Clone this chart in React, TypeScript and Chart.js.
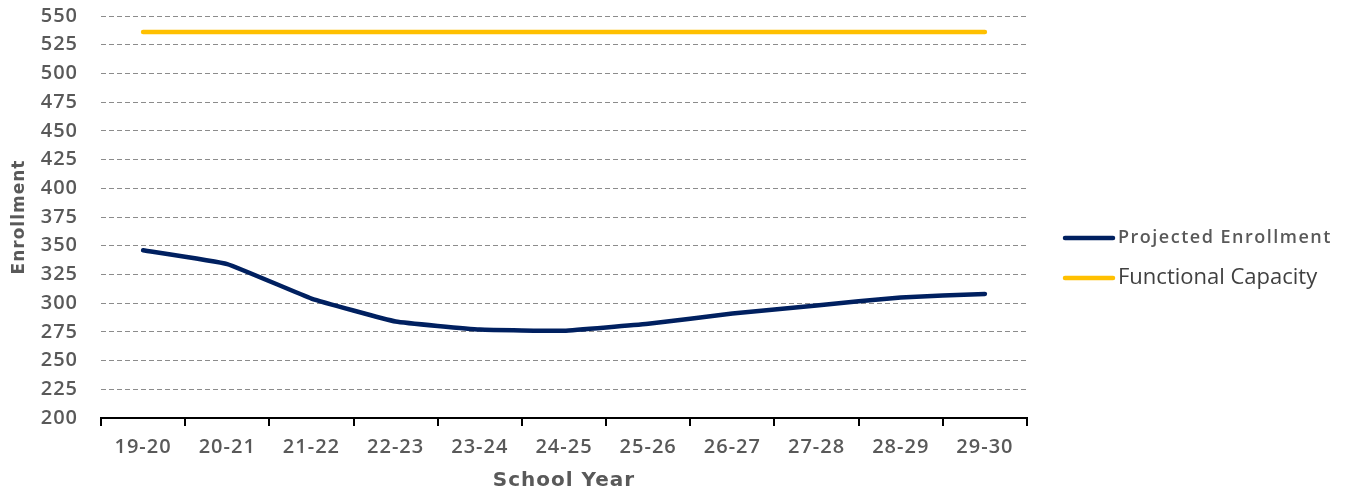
import React, { useEffect, useRef } from "react";
import { Chart, registerables } from "chart.js";

Chart.register(...registerables);

const schoolYears = ["19-20", "20-21", "21-22", "22-23", "23-24", "24-25", "25-26", "26-27", "27-28", "28-29", "29-30"];
const projectedEnrollment = [346, 334, 304, 284, 277, 276, 282, 291, 298, 305, 308];
const functionalCapacity = [536, 536, 536, 536, 536, 536, 536, 536, 536, 536, 536];
const seriesNames = ["Projected Enrollment", "Functional Capacity"];
const seriesColors = ["#002060", "#FFC000"];
const yMin = 200;
const yMax = 550;
const yStep = 25;

const letterSpacingPlugin = {
  id: "letterSpacing",
  beforeUpdate(chart: any) {
    chart.ctx.letterSpacing = "1px";
  },
  beforeLayout(chart: any) {
    chart.ctx.letterSpacing = "1px";
  },
  beforeDraw(chart: any) {
    chart.ctx.letterSpacing = "1px";
  },
};

const legendStyles = [
  { font: "600 18px 'Open Sans'", spacing: "1.5px", color: "#595959" },
  { font: "400 22px 'Open Sans'", spacing: "0px", color: "#404040" },
];

const sideLegendPlugin = {
  id: "sideLegend",
  afterDraw(chart: any) {
    const ctx = chart.ctx;
    const area = chart.chartArea;
    const x0 = area.right + 38;
    const ys = [238, 278];
    ctx.save();
    chart.data.datasets.forEach((ds: any, i: number) => {
      const y = ys[i];
      ctx.strokeStyle = ds.borderColor;
      ctx.lineWidth = 4.5;
      ctx.lineCap = "round";
      ctx.beginPath();
      ctx.moveTo(x0, y);
      ctx.lineTo(x0 + 48, y);
      ctx.stroke();
      const st = legendStyles[i];
      ctx.letterSpacing = st.spacing;
      ctx.font = st.font;
      ctx.fillStyle = st.color;
      ctx.textAlign = "left";
      ctx.textBaseline = "middle";
      ctx.fillText(ds.label, x0 + 53, y);
    });
    ctx.restore();
  },
};

export default function App() {
  const ref = useRef<HTMLCanvasElement | null>(null);
  useEffect(() => {
    document.body.style.margin = "0";
    const canvas = ref.current;
    if (!canvas) return;
    const chart = new Chart(canvas, {
      type: "line",
      data: {
        labels: schoolYears,
        datasets: [
          {
            label: seriesNames[0],
            data: projectedEnrollment,
            borderColor: seriesColors[0],
            backgroundColor: seriesColors[0],
            borderWidth: 4.5,
            pointRadius: 0,
            tension: 0.1,
            borderCapStyle: "round",
            borderJoinStyle: "round",
          },
          {
            label: seriesNames[1],
            data: functionalCapacity,
            borderColor: seriesColors[1],
            backgroundColor: seriesColors[1],
            borderWidth: 4.5,
            pointRadius: 0,
            borderCapStyle: "round",
          },
        ],
      },
      options: {
        animation: false,
        responsive: false,
        maintainAspectRatio: false,
        layout: { padding: { top: 0, right: 326, bottom: 1, left: 5 } },
        plugins: {
          legend: { display: false },
          tooltip: { enabled: false },
        },
        scales: {
          x: {
            offset: true,
            grid: {
              offset: true,
              drawOnChartArea: false,
              drawTicks: true,
              tickLength: 8,
              color: "#000000",
              lineWidth: 2,
            },
            border: { display: true, color: "#000000", width: 2 },
            ticks: {
              color: "#595959",
              font: { family: "'Open Sans'", size: 20, weight: "600" },
              padding: 9,
              maxRotation: 0,
              autoSkip: false,
            },
            title: {
              display: true,
              text: "School Year",
              color: "#595959",
              font: { family: "'DejaVu Sans'", size: 20, weight: "bold" },
              padding: { top: 1, bottom: 0 },
            },
          },
          y: {
            min: yMin,
            max: yMax,
            afterFit(scale: any) {
              scale.width = 96;
              scale.paddingTop = 16;
              scale.paddingBottom = 12;
            },
            grid: {
              drawTicks: false,
              color: (c: any) => (c.tick && c.tick.value === yMin ? "rgba(0,0,0,0)" : "#8c8c8c"),
              lineWidth: 1,
            },
            border: { display: false, dash: [5, 3] },
            ticks: {
              stepSize: yStep,
              autoSkip: false,
              color: "#595959",
              font: { family: "'Open Sans'", size: 20, weight: "600" },
              padding: 23,
            },
            title: {
              display: true,
              text: "Enrollment",
              color: "#595959",
              font: { family: "'DejaVu Sans'", size: 17, weight: "bold" },
              padding: { top: 4, bottom: 4 },
            },
          },
        },
      },
      plugins: [letterSpacingPlugin, sideLegendPlugin],
    });
    return () => chart.destroy();
  }, []);
  return (
    <div style={{ position: "absolute", left: 0, top: 0, width: 1353, height: 494, background: "#ffffff" }}>
      <canvas ref={ref} width={1353} height={494} style={{ width: 1353, height: 494, display: "block" }} />
    </div>
  );
}
